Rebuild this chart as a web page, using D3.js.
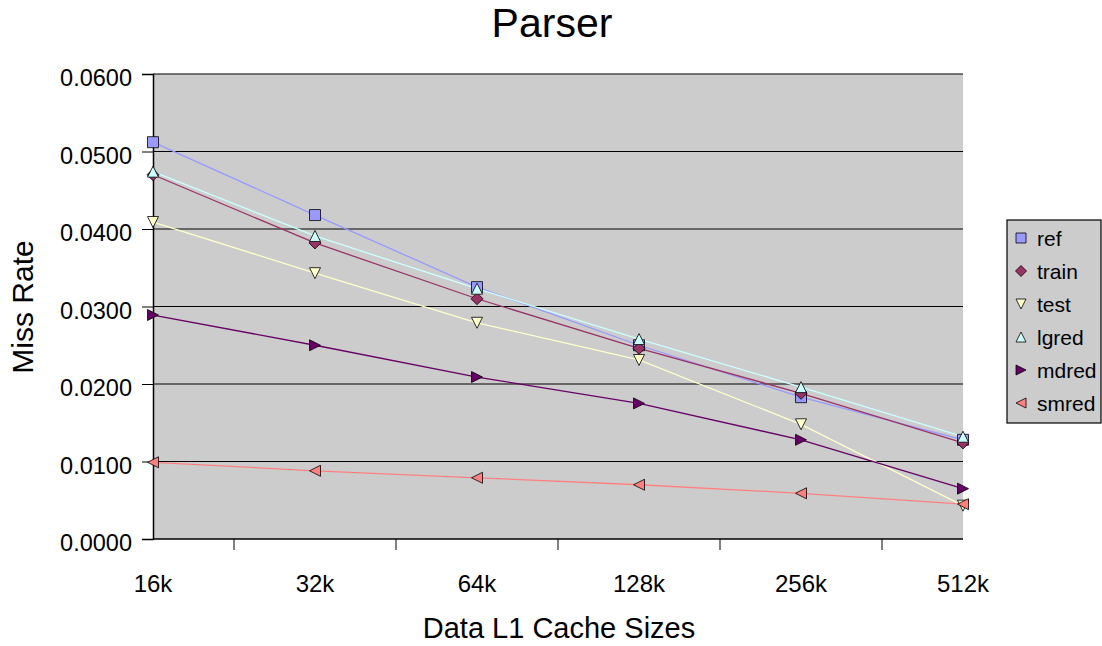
<!DOCTYPE html>
<html>
<head>
<meta charset="utf-8">
<script src="https://cdn.jsdelivr.net/npm/d3@7"></script>
<style>
  body { margin: 0; background: #fff; }
  text { font-family: "Liberation Sans", Arial, sans-serif; }
</style>
</head>
<body>
<svg id="mainsvg" width="1102" height="646"></svg>
<script>
// data
const categories = ['16k', '32k', '64k', '128k', '256k', '512k'];
const yTicks = [0, 0.01, 0.02, 0.03, 0.04, 0.05, 0.06];
const seriesNames = ['ref', 'train', 'test', 'lgred', 'mdred', 'smred'];
const ref   = [0.0512, 0.0418, 0.0325, 0.0250, 0.0183, 0.0128];
const train = [0.0470, 0.0382, 0.0310, 0.0246, 0.0188, 0.0124];
const test  = [0.0409, 0.0343, 0.0279, 0.0231, 0.0148, 0.0043];
const lgred = [0.0474, 0.0391, 0.0323, 0.0258, 0.0196, 0.0132];
const mdred = [0.0289, 0.0250, 0.0209, 0.0175, 0.0128, 0.0065];
const smred = [0.0099, 0.0088, 0.0079, 0.0070, 0.0059, 0.0045];

const series = [
  {name: seriesNames[0], values: ref,   color: '#9999ff', shape: 'square'},
  {name: seriesNames[1], values: train, color: '#993366', shape: 'diamond'},
  {name: seriesNames[2], values: test,  color: '#ffffcc', shape: 'tridown'},
  {name: seriesNames[3], values: lgred, color: '#ccffff', shape: 'triup'},
  {name: seriesNames[4], values: mdred, color: '#660066', shape: 'triright'},
  {name: seriesNames[5], values: smred, color: '#ff8080', shape: 'trileft'}
];

const svg = d3.select('#mainsvg');
const margin = {top: 74, left: 153, right: 963, bottom: 539};

const x = d3.scalePoint().domain(categories).range([margin.left, margin.right]);
const y = d3.scaleLinear().domain([0, 0.06]).range([margin.bottom, margin.top]);

// plot area
svg.append('rect')
  .attr('x', margin.left).attr('y', margin.top)
  .attr('width', margin.right - margin.left).attr('height', margin.bottom - margin.top)
  .attr('fill', '#cccccc');

// gridlines
svg.append('g').selectAll('line').data(yTicks.slice(1)).enter().append('line')
  .attr('x1', margin.left).attr('x2', margin.right)
  .attr('y1', d => y(d)).attr('y2', d => y(d))
  .attr('stroke', '#000').attr('stroke-width', 1.2);

// y axis
const yAxis = d3.axisLeft(y).tickValues(yTicks).tickFormat(d3.format('.4f')).tickSize(11).tickPadding(10);
const yg = svg.append('g').attr('transform', `translate(${margin.left},0)`).call(yAxis);
yg.select('.domain').attr('stroke', '#000').attr('stroke-width', 1.5);
yg.selectAll('line').attr('stroke', '#000');
yg.selectAll('text').attr('font-size', 23.5).attr('fill', '#000').attr('dy', '0.5em')
  .style('font-family', '"Liberation Sans", Arial, sans-serif');

// x axis: labels at category points, tick marks halfway between
const step = x.step();
const xg = svg.append('g');
xg.append('line')
  .attr('x1', margin.left).attr('x2', margin.right)
  .attr('y1', margin.bottom).attr('y2', margin.bottom)
  .attr('stroke', '#000').attr('stroke-width', 1.5);
xg.selectAll('.tk').data(categories.slice(1)).enter().append('line')
  .attr('x1', d => x(d) - step / 2).attr('x2', d => x(d) - step / 2)
  .attr('y1', margin.bottom).attr('y2', margin.bottom + 11)
  .attr('stroke', '#000');
xg.selectAll('.lbl').data(categories).enter().append('text')
  .attr('x', d => x(d)).attr('y', 592)
  .attr('text-anchor', 'middle').attr('font-size', 24)
  .text(d => d);

// lines
const line = d3.line().x((d, i) => x(categories[i])).y(d => y(d));
svg.append('g').selectAll('path').data(series).enter().append('path')
  .attr('d', d => line(d.values))
  .attr('fill', 'none').attr('stroke', d => d.color).attr('stroke-width', 1.3);

// marker shapes
function shapePath(shape, s) {
  const h = s / 2;
  switch (shape) {
    case 'square':   return `M${-h},${-h}H${h}V${h}H${-h}Z`;
    case 'diamond':  return `M0,${-h}L${h},0L0,${h}L${-h},0Z`;
    case 'tridown':  return `M${-h},${-h}L${h},${-h}L0,${h}Z`;
    case 'triup':    return `M0,${-h}L${h},${h}L${-h},${h}Z`;
    case 'triright': return `M${-h},${-h}L${h},0L${-h},${h}Z`;
    case 'trileft':  return `M${h},${-h}L${-h},0L${h},${h}Z`;
  }
}

series.forEach(s => {
  svg.append('g').selectAll('path').data(s.values).enter().append('path')
    .attr('transform', (d, i) => `translate(${x(categories[i])},${y(d)})`)
    .attr('d', shapePath(s.shape, s.shape === 'diamond' ? 12 : 11))
    .attr('fill', s.color).attr('stroke', '#000').attr('stroke-width', 0.8);
});

// legend
const lg = svg.append('g').attr('transform', 'translate(1007,220)');
lg.append('rect').attr('x', 0).attr('y', 0).attr('width', 94).attr('height', 203)
  .attr('fill', '#cccccc').attr('stroke', '#000').attr('stroke-width', 1.2);
const item = lg.selectAll('.item').data(series).enter().append('g')
  .attr('transform', (d, i) => `translate(0,${18 + i * 33})`);
item.append('path')
  .attr('transform', 'translate(14,0)')
  .attr('d', d => shapePath(d.shape, d.shape === 'diamond' ? 11 : 10))
  .attr('fill', d => d.color).attr('stroke', '#000').attr('stroke-width', 0.8);
item.append('text').attr('x', 30).attr('y', 8).attr('font-size', 21).text(d => d.name);

// titles
svg.append('text').attr('x', 552).attr('y', 37).attr('text-anchor', 'middle')
  .attr('font-size', 41).text('Parser');
svg.append('text').attr('x', 559).attr('y', 638).attr('text-anchor', 'middle')
  .attr('font-size', 29).text('Data L1 Cache Sizes');
svg.append('text').attr('transform', 'translate(33,307) rotate(-90)')
  .attr('text-anchor', 'middle').attr('font-size', 30).text('Miss Rate');
</script>
</body>
</html>
